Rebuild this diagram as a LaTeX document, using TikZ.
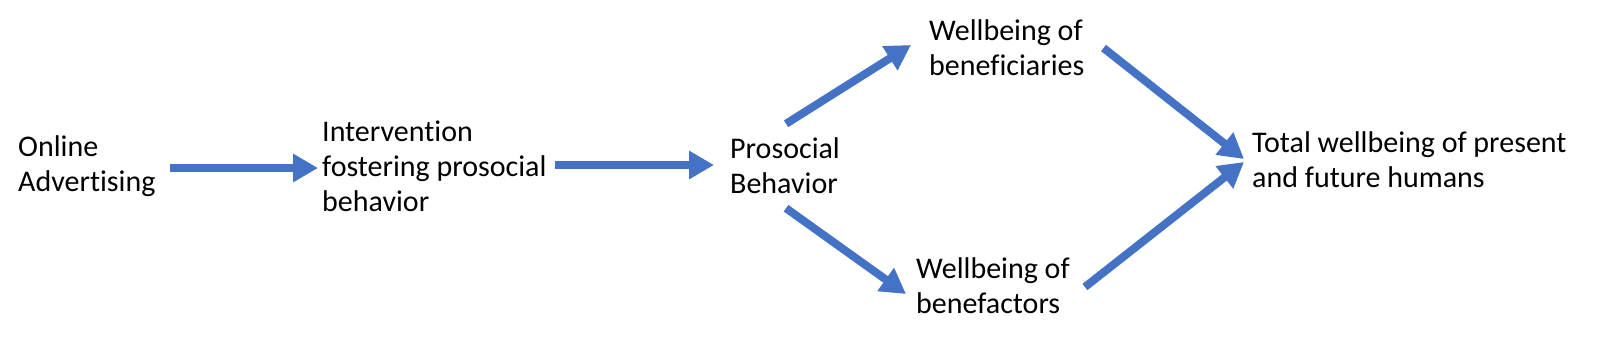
\documentclass[tikz,border=0pt]{standalone}
\usepackage{fontspec}
\setmainfont[Ligatures={NoCommon}]{Carlito}
\usetikzlibrary{arrows.meta,calc}
\definecolor{arrblue}{HTML}{4472C4}
\begin{document}
\begin{tikzpicture}[x=1pt,y=-1pt,
  lbl/.style={anchor=west,align=left,inner sep=0pt,font=\fontsize{30}{35}\selectfont},
  arr/.style={draw=arrblue,line width=8pt,-{Triangle[length=25pt,width=27pt]}}]
\useasboundingbox (0,0) rectangle (1600,341);
\node[lbl] (on) at (18,166) {Online\\Advertising};
\node[lbl] (iv) at (322,166) {Intervention\\fostering prosocial\\behavior};
\node[lbl] (ps) at (730,166) {Prosocial\\Behavior};
\node[lbl] (wb) at (929,48) {Wellbeing of\\beneficiaries};
\node[lbl] (wf) at (916,286) {Wellbeing of\\benefactors};
\node[lbl] (tw) at (1252,160) {Total wellbeing of present\\and future humans};
\coordinate (a1s) at (170,168);
\draw[arr] (a1s) -- ($(iv.west|-a1s)+(-4,0)$);
\draw[arr] ($(iv.east|-0,165)+(8,0)$) -- ($(ps.west|-0,165)+(-16,0)$);
\draw[arr] ($(ps.north)+(1,-14)$) -- ($(wb.west)+(-18,-3)$);
\draw[arr] ($(ps.south)+(1,14)$) -- ($(wf.west)+(-10,8)$);
\draw[arr] ($(wb.east)+(19,0)$) -- ($(tw.west)+(-8,-1)$);
\draw[arr] ($(wf.east)+(15,1)$) -- ($(tw.west)+(-8,2)$);
\end{tikzpicture}
\end{document}
